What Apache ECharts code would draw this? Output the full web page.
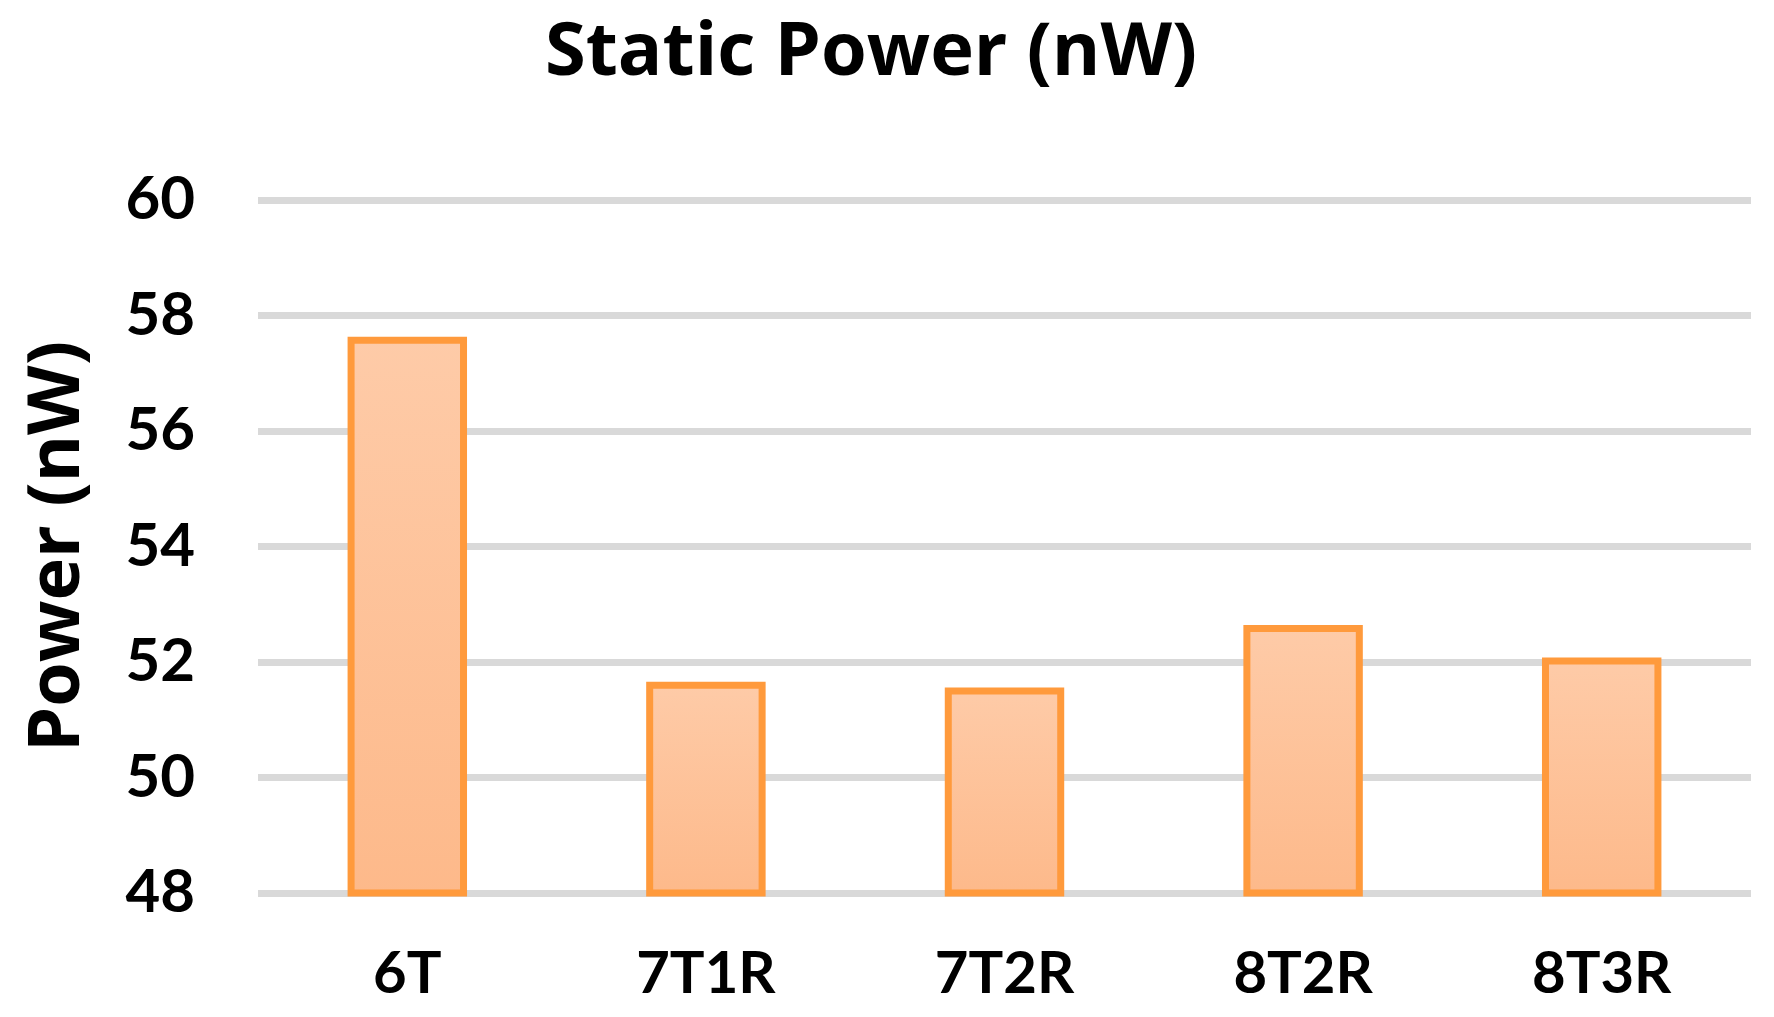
<!DOCTYPE html>
<html>
<head>
<meta charset="utf-8">
<script src="https://cdn.jsdelivr.net/npm/echarts@6/dist/echarts.min.js"></script>
<style>
html,body{margin:0;padding:0;background:#fff;}
#main{width:1774px;height:1017px;}
</style>
</head>
<body>
<div id="main"></div>
<script>
const categories = ['6T', '7T1R', '7T2R', '8T2R', '8T3R'];
const powerValues = [57.63, 51.66, 51.56, 52.64, 52.08];
const yTicks = [48, 50, 52, 54, 56, 58, 60];
const titleText = 'Static Power (nW)';
const yAxisName = 'Power (nW)';

const FONT = 'Lato';
const TFONT = 'Open Sans';
const chart = echarts.init(document.getElementById('main'), null, {renderer: 'canvas'});
chart.setOption({
  backgroundColor: '#ffffff',
  animation: false,
  title: {
    text: titleText,
    left: 866,
    top: 12,
    textAlign: 'center',
    textStyle: {fontFamily: TFONT, fontWeight: 'bold', fontSize: 74, color: '#000'}
  },
  grid: {left: 258, right: 23, top: 200, bottom: 124, containLabel: false},
  xAxis: {
    type: 'category',
    data: categories,
    axisLine: {show: false},
    axisTick: {show: false},
    axisLabel: {margin: 52, fontFamily: FONT, fontWeight: 'bold', fontSize: 58, color: '#000'}
  },
  yAxis: {
    type: 'value',
    min: yTicks[0],
    max: yTicks[yTicks.length - 1],
    interval: yTicks[1] - yTicks[0],
    name: yAxisName,
    nameLocation: 'middle',
    nameGap: 164,
    nameTextStyle: {fontFamily: TFONT, fontWeight: 'bold', fontSize: 72, color: '#000'},
    axisLine: {show: false},
    axisTick: {show: false},
    axisLabel: {margin: 63, fontFamily: FONT, fontWeight: 'bold', fontSize: 60, color: '#000'},
    splitLine: {show: true, lineStyle: {color: '#d9d9d9', width: 7}}
  },
  series: [{
    type: 'bar',
    data: powerValues,
    barWidth: '40%',
    itemStyle: {
      color: new echarts.graphic.LinearGradient(0, 0, 0, 1, [
        {offset: 0, color: '#FECBA8'},
        {offset: 1, color: '#FDB98A'}
      ]),
      borderColor: '#FF9A3C',
      borderWidth: 7
    }
  }]
});
</script>
</body>
</html>
